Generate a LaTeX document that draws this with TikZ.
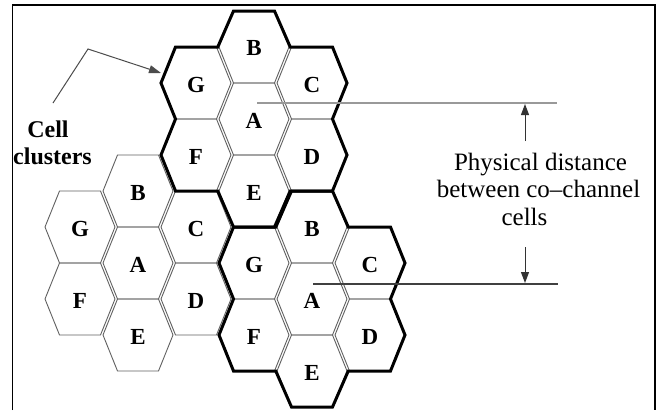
\documentclass[tikz,border=0pt]{standalone}
\usepackage{fontspec}
\setmainfont{Liberation Serif}
\usetikzlibrary{arrows.meta}
\begin{document}
\begin{tikzpicture}[x=1pt,y=-1pt,
  cellline/.style={draw=black!62, line width=0.9pt},
  clusterline/.style={draw=black, line width=3pt, line join=miter},
  cellabel/.style={font=\fontsize{23}{23}\selectfont\bfseries, inner sep=0pt},
  txt/.style={font=\fontsize{25}{27}\selectfont, anchor=base, inner sep=0pt},
  cctxt/.style={font=\fontsize{24}{27}\selectfont\bfseries, anchor=base, inner sep=0pt},
  pointer/.style={draw=black!70, line width=1pt, -{Triangle[length=12pt,width=8pt]}},
  distarrow/.style={draw=black!80, line width=1pt, -{Triangle[length=11pt,width=8pt]}},
  frameline/.style={draw=black, line width=1.4pt}]
\useasboundingbox[fill=white] (0,0) rectangle (659,410);
% hexagonal cells: col/row/label/name
\foreach \c/\r/\l/\n in {
  3/0/B/tB, 2/1/G/tG, 4/1/C/tC, 3/2/A/tA, 2/3/F/tF, 4/3/D/tD, 3/4/E/tE,
  1/4/B/lB, 0/5/G/lG, 2/5/C/lC, 1/6/A/lA, 0/7/F/lF, 2/7/D/lD, 1/8/E/lE,
  4/5/B/rB, 3/6/G/rG, 5/6/C/rC, 4/7/A/rA, 3/8/F/rF, 5/8/D/rD, 4/9/E/rE}{
  \pgfmathsetmacro\X{80+58*\c}
  \pgfmathsetmacro\Y{47+36*\r}
  \coordinate (c\n) at (\X,\Y);
  \draw[cellline] (\X-35,\Y) -- (\X-20.5,\Y-36) -- (\X+20.5,\Y-36) -- (\X+35,\Y)
     -- (\X+20.5,\Y+36) -- (\X-20.5,\Y+36) -- cycle;
  \node[cellabel] (\n) at (\X,\Y+1.5) {\l};
}
% thick cluster outlines
\foreach \cc in {ctA, crA}{
  \draw[clusterline, shift={(\cc)}] (-20.5,-108) -- (20.5,-108) -- (36.25,-72) -- (78.5,-72)
    -- (93,-36) -- (78.5,0) -- (93,36) -- (78.5,72) -- (36.25,72) -- (20.5,108)
    -- (-20.5,108) -- (-36.25,72) -- (-78.5,72) -- (-93,36) -- (-78.5,0)
    -- (-93,-36) -- (-78.5,-72) -- (-36.25,-72) -- cycle;
}
% frame
\draw[frameline] (12.5,410) -- (12.5,5) -- (655,5) -- (655,410);
% cell clusters label and pointer
\node[cctxt] (cc1) at (48,137) {Cell};
\node[cctxt] (cc2) at (52.5,164) {clusters};
\coordinate (ccstart) at (53,103);
\coordinate (ccbend) at (88,49);
\coordinate (cctip) at (161,73);
\draw[pointer] (ccstart) -- (ccbend) -- (cctip);
% distance lines
\coordinate (d1a) at (257,103);
\coordinate (d1b) at (557,103);
\coordinate (d2a) at (313,284);
\coordinate (d2b) at (558,284);
\draw[draw=black!40, line width=2pt] (d1a) -- (d1b);
\draw[draw=black!75, line width=1.5pt] (d2a) -- (d2b);
\coordinate (ua1) at (525,141);
\coordinate (ua2) at (525,104);
\coordinate (da1) at (525,247);
\coordinate (da2) at (525,283);
\draw[distarrow] (ua1) -- (ua2);
\draw[distarrow] (da1) -- (da2);
% distance text
\node[txt] (pd1) at (540.5,170) {Physical distance};
\node[txt] (pd2) at (538.5,197) {between co--channel};
\node[txt] (pd3) at (524.5,225) {cells};
\end{tikzpicture}
\end{document}
